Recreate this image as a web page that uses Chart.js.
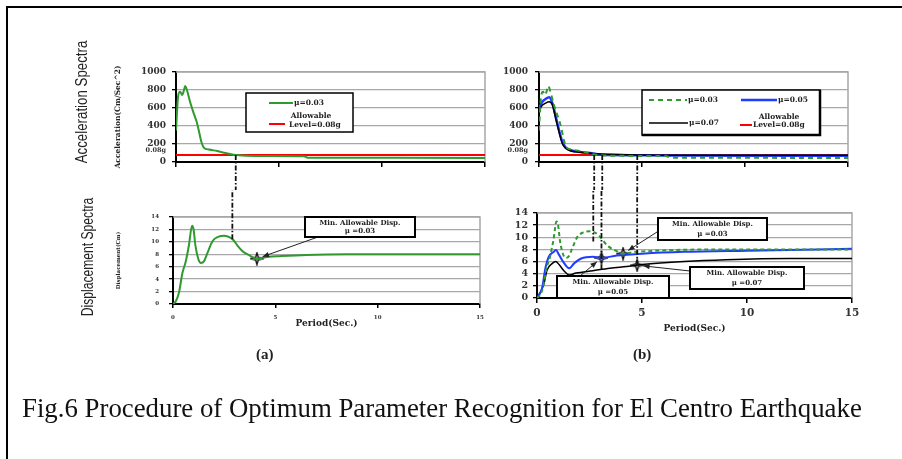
<!DOCTYPE html>
<html>
<head>
<meta charset="utf-8">
<script src="https://cdn.jsdelivr.net/npm/chart.js@4.4.1/dist/chart.umd.min.js"></script>
<style>
  html, body { margin: 0; padding: 0; background: #fff; }
  #page { position: relative; width: 902px; height: 459px; overflow: hidden; background: #fff; }
  #page canvas { position: absolute; left: 0; top: 0; }
  .frame-top { position: absolute; left: 6px; top: 6px; width: 896px; height: 2px; background: #000; }
  .frame-left { position: absolute; left: 6px; top: 6px; width: 2px; height: 453px; background: #000; }
  .vtitle { position: absolute; white-space: nowrap; font-family: "Liberation Sans", Arial, sans-serif; font-size: 16px; color: #222; line-height: 16px; }
  .panel { position: absolute; font-family: "Liberation Serif", serif; font-size: 15px; font-weight: bold; color: #222; line-height: 15px; }
  #caption { position: absolute; left: 22px; top: 395px; white-space: nowrap; font-family: "Liberation Serif", "Times New Roman", serif; font-size: 27px; line-height: 27px; color: #111; transform-origin: left top; }
</style>
</head>
<body>
<div id="page">
  <div class="frame-top"></div>
  <div class="frame-left"></div>
  <canvas id="accelA" width="902" height="459"></canvas>
  <canvas id="accelB" width="902" height="459"></canvas>
  <canvas id="dispA" width="902" height="459"></canvas>
  <canvas id="dispB" width="902" height="459"></canvas>
  <div class="vtitle" id="titleAccel"></div>
  <div class="vtitle" id="titleDisp"></div>
  <div class="panel" id="panelA">(a)</div>
  <div class="panel" id="panelB">(b)</div>
  <div id="caption">Fig.6 Procedure of Optimum Parameter Recognition for El Centro Earthquake</div>
</div>
<script>
// ---- data ----
const periodTicks = [0, 5, 10, 15];
const accelTicks = [0, 200, 400, 600, 800, 1000];
const dispTicks = [0, 2, 4, 6, 8, 10, 12, 14];
const allowableAccel = 78.5; // 0.08g in cm/s^2

const seriesLabels = ["μ=0.03", "μ=0.05", "μ=0.07"];
const allowableLabel = ["Allowable", "Level=0.08g"];
const noteTitle = "Min. Allowable Disp.";
const noteMu = ["μ =0.03", "μ =0.05", "μ =0.07"];

// acceleration spectra (cm/s^2)
const accPeriod03 = [0, 0.1, 0.2, 0.3, 0.37, 0.45, 0.53, 0.7, 0.86, 1.0, 1.1, 1.23, 1.35, 1.6, 2.0, 2.4, 2.8, 3.4, 4.5, 6.2, 6.4, 10, 15];
const acc03 = [350, 725, 780, 745, 785, 845, 800, 655, 540, 450, 355, 225, 160, 138, 122, 100, 80, 70, 68, 65, 48, 46, 45];
const accPeriod05 = [0, 0.16, 0.32, 0.49, 0.65, 0.81, 0.97, 1.13, 1.3, 1.55, 2.0, 2.6, 3.07, 4.5, 6, 10, 15];
const acc05 = [595, 670, 700, 720, 655, 505, 355, 225, 160, 130, 112, 95, 80, 75, 72, 70, 70];
const accPeriod07 = [0, 0.16, 0.32, 0.49, 0.65, 0.81, 0.97, 1.13, 1.3, 1.55, 2.0, 2.8, 3.5, 4.77, 6, 10, 15];
const acc07 = [575, 630, 655, 670, 635, 485, 335, 205, 150, 123, 108, 92, 86, 79, 76, 75, 75];

// displacement spectra (cm)
const dispPeriod03 = [0, 0.13, 0.29, 0.46, 0.62, 0.78, 0.93, 1.0, 1.1, 1.24, 1.36, 1.52, 1.68, 1.93, 2.2, 2.5, 2.8, 2.95, 3.15, 3.4, 3.75, 4.1, 4.7, 5.2, 6.5, 8.5, 12, 15];
const disp03 = [0, 0.4, 1.8, 5.0, 6.8, 9.5, 12.6, 12.1, 9.3, 7.2, 6.6, 6.9, 8.2, 10.1, 10.8, 11.0, 10.7, 10.3, 9.4, 8.5, 7.8, 7.3, 7.6, 7.7, 7.9, 8.0, 8.0, 8.0];
const dispPeriod05 = [0, 0.24, 0.4, 0.56, 0.8, 0.9, 1.05, 1.3, 1.53, 1.77, 2.1, 2.66, 3.07, 3.8, 5, 7, 10, 15];
const disp05 = [0, 1.6, 4.9, 6.8, 7.6, 7.9, 7.1, 5.7, 4.9, 5.7, 6.5, 6.8, 6.6, 7.0, 7.3, 7.6, 7.8, 8.1];
const dispPeriod07 = [0, 0.32, 0.48, 0.73, 0.89, 1.05, 1.3, 1.53, 1.85, 2.66, 3.47, 4.27, 5, 7, 9, 12, 15];
const disp07 = [0, 2.2, 4.6, 5.7, 6.0, 5.5, 4.4, 3.8, 4.1, 4.5, 4.9, 5.2, 5.5, 6.0, 6.3, 6.5, 6.5];

// minimum allowable displacement points (period, disp) per μ
const minPeriod = [4.1, 3.07, 4.77];
const minDisp = [7.3, 6.6, 5.4];

// periods where each spectrum meets the allowable level, and where the drop line stops below
const crossPeriodA = [2.9];
const crossDispA = [10.4];
const crossPeriodB = [2.68, 3.07, 4.77];
const crossDispB = [9.3, 4.7, 5.4];

// ---- helpers ----
const GREEN = "#2f9a2f";
const BLUE = "#1f3cff";
const RED = "#ff0000";
const GRID = "#a8a8a8";
const SERIF = '"DejaVu Serif", serif';
const splitY = 190;

const pairs = (xs, ys) => xs.map((x, i) => ({ x, y: ys[i] }));
const font = (size, weight = "bold") => ({ family: SERIF, size, weight });

function makeStar(size) {
  const c = document.createElement("canvas");
  c.width = c.height = size;
  const g = c.getContext("2d");
  const m = size / 2, r = size / 2 - 1, ri = r * 0.32;
  g.beginPath();
  for (let i = 0; i < 8; i++) {
    const a = i * Math.PI / 4 - Math.PI / 2;
    const rr = i % 2 ? ri : r;
    g.lineTo(m + rr * Math.cos(a), m + rr * Math.sin(a));
  }
  g.closePath();
  g.fillStyle = "#bbb";
  g.fill();
  g.strokeStyle = "#111";
  g.lineWidth = 1.3;
  g.stroke();
  return c;
}
const starImage = makeStar(14);

function curve(label, xs, ys, color, width, dash) {
  return {
    label,
    data: pairs(xs, ys),
    borderColor: color,
    borderWidth: width,
    borderDash: dash || [],
    pointRadius: 0,
    cubicInterpolationMode: "monotone",
    fill: false
  };
}

function allowableLine() {
  return {
    label: allowableLabel.join("\n"),
    data: pairs([0, 15], [allowableAccel, allowableAccel]),
    borderColor: RED,
    borderWidth: 2,
    pointRadius: 0,
    tension: 0
  };
}

function stars(indices) {
  return {
    label: "min",
    data: indices.map(i => ({ x: minPeriod[i], y: minDisp[i] })),
    showLine: false,
    pointStyle: starImage,
    pointRadius: 7,
    borderColor: "#000"
  };
}

function axisX(opts) {
  return {
    type: "linear",
    min: 0,
    max: 15,
    afterBuildTicks: s => { s.ticks = periodTicks.map(v => ({ value: v })); },
    afterFit: s => { s.height = opts.height; },
    grid: { drawOnChartArea: false, color: "#000", tickColor: "#000", tickLength: opts.tickLength, lineWidth: 1.5 },
    border: { color: "#000", width: 2 },
    ticks: {
      display: !!opts.fontSize,
      autoSkip: false,
      color: "#333",
      font: font(opts.fontSize || 8),
      padding: opts.padding || 2,
      maxRotation: 0,
      callback: v => String(v)
    },
    title: opts.title
      ? { display: true, text: "Period(Sec.)", color: "#222", font: font(opts.title), padding: { top: 0, bottom: 0 } }
      : { display: false }
  };
}

function axisY(opts) {
  return {
    type: "linear",
    min: 0,
    max: opts.ticks[opts.ticks.length - 1],
    afterBuildTicks: s => { s.ticks = opts.ticks.map(v => ({ value: v })); },
    afterFit: s => { s.width = opts.width; },
    grid: {
      color: c => (c.tick && c.tick.value === 0 ? "rgba(0,0,0,0)" : GRID),
      lineWidth: 1.3,
      tickColor: "#000",
      tickLength: 4
    },
    border: { color: "#000", width: 2 },
    ticks: { autoSkip: false, color: "#333", font: font(opts.fontSize), padding: opts.padding, callback: v => String(v) },
    title: opts.title
      ? { display: true, text: opts.title, color: "#222", font: font(opts.titleSize), padding: { top: opts.titlePad, bottom: 0 } }
      : { display: false }
  };
}

// ---- plugins ----
const plotFrame = {
  id: "plotFrame",
  beforeDatasetsDraw(chart) {
    const { ctx, chartArea: a } = chart;
    ctx.save();
    ctx.strokeStyle = GRID;
    ctx.lineWidth = 1.5;
    ctx.beginPath();
    ctx.moveTo(a.left, a.top);
    ctx.lineTo(a.right, a.top);
    ctx.lineTo(a.right, a.bottom);
    ctx.stroke();
    ctx.restore();
  }
};

const connectors = {
  id: "connectors",
  afterDatasetsDraw(chart, args, opts) {
    if (!opts.periods) return;
    const { ctx, scales: { x, y } } = chart;
    ctx.save();
    ctx.strokeStyle = "#111";
    ctx.lineWidth = 1.8;
    ctx.setLineDash([5, 2, 1.5, 2]);
    opts.periods.forEach((p, i) => {
      const px = x.getPixelForValue(p);
      const py = y.getPixelForValue(opts.values[i]);
      ctx.beginPath();
      ctx.moveTo(px, py);
      ctx.lineTo(px, splitY);
      ctx.stroke();
    });
    ctx.restore();
  }
};

const allowText = {
  id: "allowText",
  afterDraw(chart, args, opts) {
    if (!opts.x) return;
    const { ctx, scales: { y } } = chart;
    const py = y.getPixelForValue(allowableAccel);
    ctx.save();
    ctx.fillStyle = "#333";
    ctx.font = `bold 6.5px ${SERIF}`;
    ctx.textAlign = "right";
    ctx.textBaseline = "bottom";
    ctx.fillText("0.08g", opts.x, py - 1);
    ctx.restore();
  }
};

const boxLegend = {
  id: "boxLegend",
  afterDatasetsDraw(chart, args, opts) {
    if (!opts.box) return;
    const { ctx } = chart;
    const [bx, by, bw, bh] = opts.box;
    ctx.save();
    ctx.fillStyle = "#fff";
    ctx.fillRect(bx, by, bw, bh);
    ctx.strokeStyle = "#000";
    ctx.lineWidth = 1.5;
    ctx.strokeRect(bx, by, bw, bh);
    if (opts.heavy) {
      ctx.lineWidth = 2.5;
      ctx.beginPath();
      ctx.moveTo(bx + bw, by);
      ctx.lineTo(bx + bw, by + bh);
      ctx.lineTo(bx, by + bh);
      ctx.stroke();
    }
    ctx.font = `bold 7.5px ${SERIF}`;
    ctx.fillStyle = "#222";
    ctx.textBaseline = "middle";
    opts.items.forEach(it => {
      const ds = chart.data.datasets[it.dataset];
      ctx.strokeStyle = ds.borderColor;
      ctx.lineWidth = ds.borderWidth;
      ctx.setLineDash(ds.borderDash || []);
      ctx.beginPath();
      ctx.moveTo(it.x1, it.y);
      ctx.lineTo(it.x2, it.y);
      ctx.stroke();
      ctx.setLineDash([]);
      ds.label.split("\n").forEach((line, k) => {
        const [tx, ty, align] = it.text[k];
        ctx.textAlign = align;
        ctx.fillText(line, tx, ty);
      });
    });
    ctx.restore();
  }
};

const notes = {
  id: "notes",
  afterDatasetsDraw(chart, args, opts) {
    if (!opts.items) return;
    const { ctx, scales: { x, y } } = chart;
    ctx.save();
    opts.items.forEach(n => {
      const [bx, by, bw, bh] = n.box;
      // arrow to the marked minimum
      const tx = x.getPixelForValue(minPeriod[n.series]);
      const ty = y.getPixelForValue(minDisp[n.series]);
      const [fx, fy] = n.from;
      const ang = Math.atan2(ty - fy, tx - fx);
      const ex = tx - Math.cos(ang) * 6, ey = ty - Math.sin(ang) * 6;
      ctx.strokeStyle = "#222";
      ctx.fillStyle = "#222";
      ctx.lineWidth = 1;
      ctx.beginPath();
      ctx.moveTo(fx, fy);
      ctx.lineTo(ex, ey);
      ctx.stroke();
      ctx.beginPath();
      ctx.moveTo(ex, ey);
      ctx.lineTo(ex - Math.cos(ang - 0.4) * 7, ey - Math.sin(ang - 0.4) * 7);
      ctx.lineTo(ex - Math.cos(ang + 0.4) * 7, ey - Math.sin(ang + 0.4) * 7);
      ctx.closePath();
      ctx.fill();
      // label box
      ctx.fillStyle = "#fff";
      ctx.fillRect(bx, by, bw, bh);
      ctx.strokeStyle = "#000";
      ctx.lineWidth = 2;
      ctx.strokeRect(bx, by, bw, bh);
      ctx.fillStyle = "#222";
      ctx.font = `bold 7px ${SERIF}`;
      ctx.textAlign = "center";
      ctx.textBaseline = "middle";
      ctx.fillText(noteTitle, bx + bw / 2, by + bh * 0.3);
      ctx.fillText(noteMu[n.series], bx + bw / 2, by + bh * 0.72);
    });
    ctx.restore();
  }
};

const allPlugins = [plotFrame, connectors, allowText, boxLegend, notes];

function makeChart(id, datasets, scales, padding, pluginOpts) {
  return new Chart(document.getElementById(id), {
    type: "line",
    data: { datasets },
    plugins: allPlugins,
    options: {
      responsive: false,
      animation: false,
      events: [],
      layout: { padding },
      scales,
      plugins: Object.assign({ legend: { display: false }, tooltip: { enabled: false } }, pluginOpts)
    }
  });
}

// (a) acceleration spectrum
makeChart("accelA",
  [curve(seriesLabels[0], accPeriod03, acc03, GREEN, 2), allowableLine()],
  {
    x: axisX({ height: 20, tickLength: 5 }),
    y: axisY({ ticks: accelTicks, width: 70, fontSize: 9, padding: 6, title: "Acceleration(Cm/Sec^2)", titleSize: 7.5, titlePad: 8 })
  },
  { left: 106, right: 417, top: 72, bottom: 277 },
  {
    connectors: { periods: crossPeriodA, values: [allowableAccel] },
    allowText: { x: 166 },
    boxLegend: {
      box: [246, 93, 107, 39],
      items: [
        { dataset: 0, x1: 269, x2: 293, y: 103, text: [[294, 103, "left"]] },
        { dataset: 1, x1: 269, x2: 285, y: 124, text: [[311, 116, "center"], [289, 125, "left"]] }
      ]
    }
  });

// (b) acceleration spectra
makeChart("accelB",
  [
    curve(seriesLabels[0], accPeriod03, acc03, GREEN, 2, [5, 4]),
    curve(seriesLabels[2], accPeriod07, acc07, "#000", 1.5),
    curve(seriesLabels[1], accPeriod05, acc05, BLUE, 2.5),
    allowableLine()
  ],
  {
    x: axisX({ height: 20, tickLength: 5 }),
    y: axisY({ ticks: accelTicks, width: 52, fontSize: 9, padding: 7 })
  },
  { left: 487, right: 54, top: 72, bottom: 277 },
  {
    connectors: { periods: crossPeriodB, values: crossPeriodB.map(() => allowableAccel) },
    allowText: { x: 528 },
    boxLegend: {
      box: [642, 90, 178, 45],
      heavy: true,
      items: [
        { dataset: 0, x1: 649, x2: 687, y: 100, text: [[688, 100, "left"]] },
        { dataset: 2, x1: 741, x2: 777, y: 100, text: [[778, 100, "left"]] },
        { dataset: 1, x1: 649, x2: 688, y: 123, text: [[689, 123, "left"]] },
        { dataset: 3, x1: 740, x2: 752, y: 125, text: [[779, 117, "center"], [753, 125, "left"]] }
      ]
    }
  });

// (a) displacement spectrum
makeChart("dispA",
  [curve(seriesLabels[0], dispPeriod03, disp03, GREEN, 2), stars([0])],
  {
    x: axisX({ height: 25, tickLength: 4, fontSize: 5.5, padding: 6, title: 9 }),
    y: axisY({ ticks: dispTicks, width: 65, fontSize: 5.5, padding: 10, title: "Displacement(Cm)", titleSize: 5.5, titlePad: 7 })
  },
  { left: 108, right: 422, top: 217, bottom: 130 },
  {
    connectors: { periods: crossPeriodA, values: crossDispA },
    notes: { items: [{ series: 0, box: [305, 217, 110, 20], from: [318, 237] }] }
  });

// (b) displacement spectra
makeChart("dispB",
  [
    curve(seriesLabels[0], dispPeriod03, disp03, GREEN, 2, [4, 3]),
    curve(seriesLabels[1], dispPeriod05, disp05, BLUE, 2),
    curve(seriesLabels[2], dispPeriod07, disp07, "#000", 1.5),
    stars([0, 1, 2])
  ],
  {
    x: axisX({ height: 36, tickLength: 5, fontSize: 10.5, padding: 4, title: 9 }),
    y: axisY({ ticks: dispTicks, width: 50, fontSize: 9.5, padding: 5 })
  },
  { left: 487, right: 50, top: 213, bottom: 125 },
  {
    connectors: { periods: crossPeriodB, values: crossDispB },
    notes: {
      items: [
        { series: 0, box: [658, 218, 109, 22], from: [657, 232] },
        { series: 1, box: [557, 276, 112, 22], from: [580, 276] },
        { series: 2, box: [690, 267, 114, 22], from: [690, 271] }
      ]
    }
  });

// ---- text around the plots ----
function placeVertical(id, text, cx, cy, length) {
  const el = document.getElementById(id);
  el.textContent = text;
  const w = el.offsetWidth, h = el.offsetHeight;
  el.style.left = (cx - w / 2) + "px";
  el.style.top = (cy - h / 2) + "px";
  el.style.transform = `rotate(-90deg) scaleX(${length / w})`;
}
placeVertical("titleAccel", "Acceleration Spectra", 82, 102, 123);
placeVertical("titleDisp", "Displacement Spectra", 88, 257, 119);

function placeCentered(id, cx, cy) {
  const el = document.getElementById(id);
  el.style.left = (cx - el.offsetWidth / 2) + "px";
  el.style.top = (cy - el.offsetHeight / 2) + "px";
}
placeCentered("panelA", 265, 354);
placeCentered("panelB", 642, 354);

const cap = document.getElementById("caption");
cap.style.transform = `scaleX(${840 / cap.offsetWidth})`;
</script>
</body>
</html>
